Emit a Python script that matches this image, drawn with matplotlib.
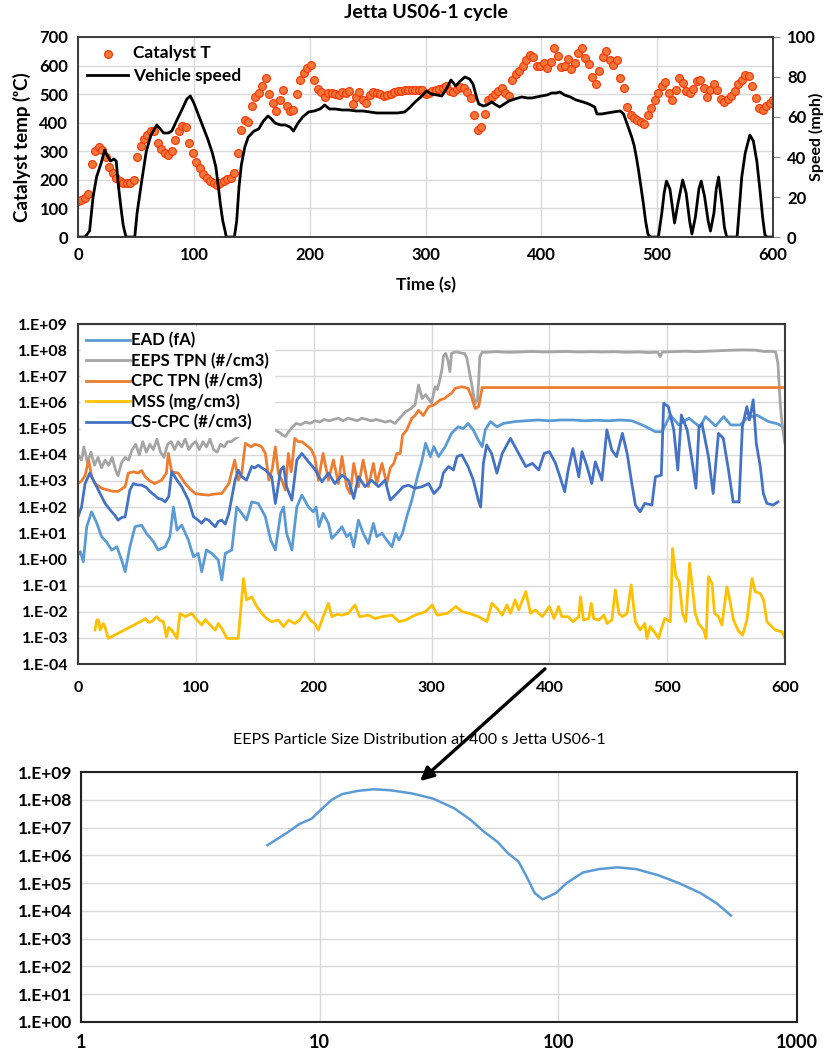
import numpy as np
import matplotlib
matplotlib.use("Agg")
import matplotlib.pyplot as plt
from matplotlib.patches import FancyArrowPatch
from matplotlib.ticker import FixedLocator, FuncFormatter, NullLocator

plt.rcParams['font.family'] = ['Lato', 'DejaVu Sans']

# ---------------- top panel: catalyst temperature and vehicle speed ----------------
cat_time = np.arange(0, 601, 3)
cat_temp = [
    127, 128, 135, 152, 255, 300, 315, 305, 280, 245, 225, 207, 195, 190, 188, 188, 200, 280, 318, 342,
    356, 370, 370, 330, 308, 294, 288, 300, 340, 372, 388, 385, 330, 295, 262, 240, 222, 205, 196, 190,
    181, 188, 195, 203, 208, 225, 295, 375, 408, 403, 460, 490, 505, 530, 555, 500, 468, 440, 480, 515,
    460, 440, 445, 500, 550, 575, 592, 602, 550, 518, 508, 490, 503, 505, 500, 497, 509, 505, 512, 465,
    490, 509, 479, 470, 497, 507, 505, 500, 492, 497, 502, 508, 510, 512, 513, 513, 514, 514, 514, 514,
    500, 505, 510, 514, 518, 522, 528, 510, 506, 517, 524, 520, 509, 485, 427, 375, 385, 432, 479, 490,
    500, 510, 520, 505, 495, 550, 570, 582, 598, 620, 636, 630, 600, 600, 608, 591, 614, 660, 632, 596,
    600, 622, 588, 608, 643, 660, 626, 605, 560, 535, 580, 630, 650, 620, 602, 620, 555, 521, 456, 427,
    415, 408, 402, 396, 428, 452, 478, 505, 528, 544, 505, 480, 514, 556, 540, 510, 503, 518, 545, 550,
    521, 491, 514, 535, 515, 482, 473, 484, 495, 512, 535, 549, 568, 562, 528, 485, 452, 445, 458, 470,
    480,
]

speed_time = [
    0, 6, 10, 13, 16, 20, 23, 26, 28, 31, 33, 35, 37, 39, 41, 42, 49, 51, 55, 59, 63, 66, 68, 71, 74, 78,
    81, 85, 90, 94, 97, 100, 104, 108, 112, 116, 119, 121, 123, 125, 127, 128, 135, 137, 139, 141, 144,
    147, 152, 156, 160, 164, 167, 170, 175, 179, 183, 186, 190, 194, 199, 204, 209, 213, 217, 222, 228,
    234, 240, 246, 252, 258, 264, 270, 276, 282, 286, 291, 296, 301, 305, 310, 314, 318, 322, 326, 330,
    334, 338, 341, 344, 346, 350, 353, 357, 361, 364, 368, 372, 377, 383, 388, 392, 396, 400, 405, 409,
    413, 416, 420, 425, 430, 436, 441, 446, 448, 452, 457, 462, 468, 471, 475, 478, 480, 482, 484, 486,
    488, 490, 492, 494, 501, 504, 506, 508, 511, 515, 518, 522, 525, 528, 530, 533, 536, 538, 541, 544,
    546, 549, 551, 553, 556, 558, 560, 569, 571, 573, 576, 580, 583, 586, 589, 591, 593, 595, 600,
]
speed_mph = [
    0, 0, 3, 20, 30, 37, 43.5, 40, 38, 39, 38, 25, 15, 6, 1, 0, 0, 12, 28, 43, 51, 54, 56, 54, 52, 52,
    53, 58, 64, 69, 70.5, 67, 61, 55, 49, 42, 35, 26, 16, 8, 3, 0, 0, 8, 25, 36, 45,
    50, 53, 54, 58, 60.5, 59, 57, 56, 56, 55, 53, 57, 60, 62.5, 63, 64, 66, 64, 64, 63.5,
    63.5, 63, 63, 62.5, 62, 62, 62, 62, 62.5, 64.5, 67.5, 70, 73, 71.5, 71, 70.5, 74, 78.5, 75.5, 78,
    80, 79, 76.5, 70, 66.5, 65.5, 66, 67.5, 66, 65, 66.5, 68, 69, 70, 69.5, 69.5, 70, 70.5, 71, 72,
    72, 72.5, 71, 70, 68.5, 67.5, 66.5, 65, 61.5, 61.5, 62, 62.5, 63, 61.5, 55, 50, 46, 40, 33, 25,
    17, 8, 1.5, 0, 0, 12, 22, 28, 24, 7, 17, 28.5, 22, 8, 1.5, 10, 24, 28, 20, 8,
    3, 12, 24, 30, 16, 5, 0, 0, 15, 30, 42, 51, 48, 38, 22, 10, 1, 0, 0,
]

# ---------------- middle panel: particle instruments (log10 of value) ----------------
ead_time = [
    0, 2, 4.5, 7.4, 11.6, 16, 20, 24, 28.6, 33, 37, 40, 44, 48.4, 54, 58, 64, 68, 74, 78, 81, 84, 88,
    93.7, 98, 102, 105, 109, 113.5, 119, 122, 125, 130.5, 134.7, 139, 143, 147.5, 153, 159, 163.5,
    167.5, 172, 174.5, 177, 181.5, 185.7, 190, 195.6, 199.6, 202, 204.5, 208, 212.5, 215.4, 219.6, 224,
    228, 231, 234, 238, 242, 246.4, 250.7, 253.5, 258, 262, 266.5, 269.5, 272.4, 275.4, 279, 283.3, 288,
    292, 295, 299, 302, 306, 311.6, 317, 322.6, 327, 331, 335.5, 339.7, 343, 345.6, 350, 355.5, 361,
    371, 380, 390, 400, 410, 420, 430, 440, 450, 460, 470, 478.8, 485, 490, 495.6, 502.7, 509.8, 514,
    518.5, 524, 528, 532.5, 541, 548, 554, 562, 567.6, 576, 586, 594, 598, 600,
]
ead_log = [
    0.17, 0.3, -0.09, 1.25, 1.82, 1.38, 0.87, 0.68, 0.36, 0.48, -0.02, -0.47, 0.48, 1.25, 1.31, 1.0, 0.68,
    0.36, 0.48, 0.87, 2.0, 1.12, 1.31, 0.74, 0.1, 0.23, -0.47, 0.36, 0.23, -0.02, -0.79, 0.23, 0.36, 2.0,
    1.76, 1.5, 2.2, 2.14, 1.63, 0.74, 0.36, 1.76, 2.0, 1.0, 0.36, 2.0, 2.46, 2.0, 1.82, 2.0, 1.25, 1.76,
    1.38, 0.8, 1.0, 1.25, 0.87, 1.0, 0.48, 1.5, 1.0, 0.61, 1.38, 0.87, 1.0, 0.74, 0.48, 1.0, 0.74, 1.0,
    1.63, 2.27, 3.16, 3.8, 4.44, 3.93, 4.31, 3.93, 4.31, 4.82, 5.07, 5.0, 5.2, 4.95, 4.56, 4.31, 4.95,
    5.27, 5.07, 5.2, 5.27, 5.3, 5.33, 5.3, 5.33, 5.33, 5.3, 5.32, 5.3, 5.33, 5.3, 5.14, 5.0, 4.88, 4.88,
    5.52, 5.14, 5.27, 5.4, 5.2, 5.07, 5.46, 5.1, 5.46, 5.14, 5.14, 5.4, 5.52, 5.27, 5.18, 5.07, 4.44,
]

eeps_time = [
    0, 3, 5, 8, 11, 14, 17, 20, 23, 26, 29, 32, 34, 37, 40, 43, 46, 49, 52, 55, 58, 61, 64, 67, 70, 73,
    76, 79, 82, 85, 88, 91, 94, 97, 100, 103, 106, 109, 112, 115, 118, 121, 124, 127, 130, 133, 136, 139,
    142, 146, 150, 155, 159, 163, 167, 171, 174, 176, 179, 182, 185, 189, 193, 197, 201, 205, 209, 213,
    217, 221, 225, 229, 233, 237, 241, 245, 249, 253, 257, 261, 265, 269, 272, 275, 278, 282, 286, 289,
    292, 295, 298, 300, 303, 305, 307, 309, 310, 312, 314, 315.6, 317, 320, 323, 326, 328, 330, 332, 334,
    336, 337, 339, 340, 341, 343, 345, 355, 365, 375, 385, 395, 405, 415, 425, 435, 445, 455, 465, 475,
    485, 492, 494, 496, 505, 515, 525, 535, 545, 555, 565, 575, 582, 590, 592, 594, 596, 597.5, 600,
]
eeps_log = [
    4.0, 3.8, 4.3, 3.7, 4.1, 3.6, 3.9, 3.5, 3.8, 3.6, 3.9, 3.4, 3.2, 3.7, 3.9, 3.8, 4.2, 4.4, 4.0, 4.5,
    4.1, 4.4, 4.2, 4.6, 4.1, 3.9, 4.4, 4.5, 4.2, 4.5, 4.3, 4.6, 4.2, 4.4, 4.5, 4.2, 4.5, 4.3, 4.6, 4.2,
    4.1, 4.4, 4.3, 4.5, 4.5, 4.6, 4.7, 4.75, 4.8, 4.85, 4.9, 4.9, 5.0, 4.9, 4.95, 4.85, 4.75, 4.7, 4.9,
    5.05, 5.2, 5.15, 5.25, 5.2, 5.3, 5.25, 5.35, 5.3, 5.35, 5.4, 5.3, 5.4, 5.35, 5.3, 5.4, 5.35, 5.3,
    5.35, 5.3, 5.25, 5.3, 5.2, 5.35, 5.5, 5.65, 5.75, 5.9, 6.67, 6.15, 6.3, 6.1, 5.97, 6.6, 6.5, 6.86,
    7.3, 7.75, 7.88, 7.6, 7.18, 7.88, 7.93, 7.92, 7.88, 7.88, 7.7, 7.2, 6.73, 6.2, 5.97, 6.1, 6.8, 7.75,
    7.92, 7.92, 7.94, 7.92, 7.93, 7.95, 7.93, 7.94, 7.95, 7.93, 7.94, 7.93, 7.94, 7.92, 7.93, 7.91, 7.92,
    7.75, 7.93, 7.94, 7.96, 7.94, 7.96, 7.98, 8.0, 8.01, 8.0, 7.95, 7.95, 7.93, 7.5, 5.9, 5.2, 4.5,
]

cpc_time = [
    0, 3, 6, 9, 11.6, 14.5, 20, 25.7, 30, 34, 40, 42.7, 47, 51, 54, 57, 61, 65, 71, 75, 76.7, 79.5, 85,
    91, 95, 99.5, 105, 111, 116, 122, 128, 133, 136, 139, 142, 147, 150, 153, 156, 159, 162, 165, 167.5,
    170, 173, 176, 178.5, 181, 184, 187, 190, 195.6, 198, 201, 204, 208, 212.5, 216.8, 221, 224, 228,
    231, 234, 238, 242, 246.4, 250.7, 253.5, 258, 262, 265, 268, 270.6, 273.5, 275.4, 279, 283.3, 286,
    289, 293, 297.6, 302, 307.4, 311, 314.4, 317, 320, 325.7, 331, 334, 337, 340, 343, 600,
]
cpc_log = [
    2.9, 3.0, 3.2, 3.8, 3.16, 2.9, 2.72, 2.65, 2.6, 2.6, 2.78, 3.3, 3.35, 3.3, 3.4, 3.16, 3.0, 2.9, 3.03,
    3.3, 4.05, 3.35, 3.3, 2.9, 2.7, 2.52, 2.48, 2.46, 2.5, 2.52, 2.9, 3.8, 3.03, 3.3, 4.44, 4.3, 4.4,
    4.37, 4.3, 4.05, 3.03, 3.5, 4.3, 3.3, 3.03, 2.65, 4.05, 3.35, 4.63, 4.5, 4.5, 4.3, 4.2, 3.9, 3.03,
    4.05, 3.03, 3.8, 2.9, 3.93, 2.78, 2.52, 3.67, 2.78, 3.8, 2.78, 3.67, 2.9, 3.67, 2.9, 3.5, 3.67,
    4.05, 4.05, 4.75, 4.95, 5.4, 5.5, 5.7, 5.5, 5.84, 5.9, 6.1, 6.15, 6.28, 6.35, 6.54, 6.6, 6.54, 6.22,
    5.77, 5.84, 6.57, 6.57,
]

mss_time = [
    14.4, 16, 17.5, 18.7, 21.5, 23, 25.7, 55.5, 57, 60, 62.5, 66.8, 70, 72.5, 75, 77, 79.5, 84, 86.6, 91,
    96.5, 101, 105, 108, 111, 114, 116.5, 119, 122, 126.5, 136, 140.4, 143, 147.5, 151.7, 156, 160,
    164.4, 170, 174.5, 178.6, 184, 188, 192.7, 197, 201, 204, 208, 212.5, 215.4, 220, 224, 229.5, 235,
    239, 246.4, 252, 258, 266.5, 272.4, 278, 286, 295, 300.5, 305, 313.6, 320.7, 326, 331.8, 340, 347,
    351.3, 355.5, 360, 364, 367, 371, 374, 380, 384, 388, 394, 400, 404, 407.8, 410.6, 416, 420, 425,
    426.4, 429, 433.4, 435.6, 437.6, 442, 446.4, 449, 453, 456, 459, 462, 466, 469.4, 473, 477, 481,
    482.8, 485.6, 490, 492.6, 495.6, 498, 502.7, 504.5, 507.4, 510.2, 513, 515.8, 519, 521, 523.8,
    526.6, 531, 533, 535, 538, 540.2, 543.6, 546.4, 550.7, 552.6, 556.3, 560, 564, 567.6, 572, 574.7,
    579, 581.8, 584.6, 587.5, 591.7, 597.4, 600,
]
mss_log = [
    -2.7, -2.32, -2.32, -2.7, -2.45, -2.6, -3.02, -2.32, -2.26, -2.4, -2.38, -2.19, -2.35, -2.38, -2.96,
    -2.6, -2.7, -3.02, -2.06, -2.19, -2.06, -2.32, -2.51, -2.3, -2.45, -2.6, -2.7, -2.45, -2.64, -3.02,
    -3.02, -0.73, -1.55, -1.43, -1.8, -2.06, -2.26, -2.38, -2.32, -2.57, -2.32, -2.45, -2.32, -2.0,
    -2.32, -2.45, -2.7, -2.19, -1.68, -2.19, -2.1, -2.13, -2.06, -1.74, -2.19, -2.13, -2.26, -2.19,
    -2.13, -2.38, -2.32, -2.13, -2.0, -1.74, -2.13, -2.06, -1.8, -2.0, -2.06, -2.19, -2.38, -1.68,
    -1.87, -2.13, -1.74, -2.06, -1.55, -1.93, -1.23, -2.06, -1.93, -2.19, -1.8, -2.26, -1.8, -2.19,
    -2.19, -2.38, -2.19, -1.43, -2.32, -2.26, -1.68, -2.26, -2.32, -2.13, -2.45, -2.32, -1.17, -2.06,
    -2.19, -2.06, -0.98, -2.38, -2.7, -2.45, -3.02, -2.57, -2.83, -3.02, -2.57, -2.26, -2.38, 0.42,
    -0.66, -0.85, -2.06, -2.38, -0.15, -0.92, -2.06, -2.45, -2.7, -3.02, -0.66, -0.92, -2.06, -2.19,
    -2.51, -1.05, -1.43, -2.32, -2.7, -2.9, -2.32, -0.73, -1.24, -1.3, -1.55, -2.38, -2.51, -2.7, -2.77,
    -3.02,
]

cscpc_time = [
    0, 3, 6, 10, 14.5, 18.7, 23, 28.6, 31, 34, 37, 40, 44, 47, 50, 54, 58, 61, 65, 68, 71, 74, 77, 79.5,
    84, 88, 93.7, 98, 102, 105, 108, 111, 114, 116.5, 119, 122, 125, 128, 133.3, 136, 139, 143, 147.4,
    150, 153, 156, 159, 164.4, 167.5, 172, 174.5, 177, 181.5, 185.7, 190, 195.6, 201, 204, 207, 212.5,
    218, 224, 229.5, 234, 238, 243.6, 249, 255, 260.6, 265, 270.6, 276, 280.4, 286, 292, 297.6, 302,
    307.4, 310, 314.4, 318.6, 321.6, 325.7, 331, 335.5, 339.7, 341.7, 344, 346.8, 351, 355.5, 360, 367,
    371, 375.5, 380, 385.6, 391, 395.6, 400, 405, 409, 413, 416, 420, 425, 427.7, 432, 436, 439, 444.6,
    448.8, 453, 457, 462, 466, 470, 473, 477, 481, 487, 490, 495, 497, 501, 505.6, 509, 512, 517, 521,
    524.4, 527, 529.5, 535, 539, 543.5, 547.6, 552, 556, 561, 563.8, 567.6, 569.8, 573, 575.6, 579,
    581.6, 584.6, 590, 594,
]
cscpc_log = [
    1.63, 2.0, 2.9, 3.3, 2.9, 2.52, 2.14, 1.82, 1.7, 1.5, 1.6, 1.63, 2.65, 2.9, 2.85, 2.84, 2.75, 2.6,
    2.45, 2.33, 2.3, 2.2, 2.4, 3.35, 3.03, 2.78, 2.27, 1.63, 1.5, 1.38, 1.55, 1.5, 1.35, 1.25, 1.45, 1.5,
    1.35, 1.76, 3.03, 3.42, 3.16, 3.03, 3.55, 3.5, 3.6, 3.5, 3.42, 3.16, 2.14, 3.42, 3.55, 2.78, 2.27,
    3.8, 4.05, 3.73, 3.45, 3.2, 2.97, 3.3, 2.9, 3.22, 3.03, 2.33, 3.16, 2.78, 3.03, 2.78, 3.03, 2.27,
    2.52, 2.78, 2.84, 2.72, 2.78, 2.9, 2.52, 2.78, 3.3, 3.55, 3.42, 3.93, 4.0, 3.55, 3.03, 2.27, 2.0,
    3.67, 4.37, 4.05, 3.3, 4.05, 4.63, 4.3, 3.93, 3.55, 3.67, 3.42, 4.05, 4.12, 3.7, 3.16, 2.59, 3.42,
    4.24, 3.16, 4.12, 3.55, 2.9, 3.73, 3.03, 4.95, 4.18, 3.93, 4.82, 4.05, 2.9, 2.08, 1.82, 2.14, 2.08,
    3.16, 3.22, 5.97, 5.84, 4.95, 3.42, 5.52, 4.95, 3.8, 2.72, 5.07, 5.2, 3.93, 2.52, 4.82, 4.63, 3.42,
    2.2, 2.2, 5.07, 5.84, 5.33, 6.1, 4.44, 3.55, 2.52, 2.14, 2.08, 2.2,
]

# ---------------- bottom panel: EEPS size distribution at 400 s ----------------
psd_diam = [6.04, 7.42, 8.23, 9.27, 10.1, 11.2, 12.4, 14.5, 16.9, 19.8, 24.3, 29.9, 36.7, 42.9, 48.8,
            55.5, 61.5, 68.2, 73.7, 79.6, 86.0, 97.8, 108.4, 126.7, 148, 177, 212, 261, 320, 394, 460, 529]
psd_conc = [2.3e6, 7.1e6, 1.35e7, 2.1e7, 4.3e7, 9.8e7, 1.6e8, 2.1e8, 2.4e8, 2.2e8, 1.7e8, 1.1e8, 4.9e7,
            1.9e7, 7.1e6, 3.1e6, 1.2e6, 5.9e5, 1.7e5, 4.4e4, 2.6e4, 4.4e4, 1.0e5, 2.4e5, 3.2e5, 3.7e5,
            3.2e5, 1.95e5, 1.0e5, 4.4e4, 1.9e4, 6.8e3]

GRID = '#d9d9d9'
FRAME = '#3a3a3a'
BOLD = dict(fontweight='bold')

fig = plt.figure(figsize=(8.28, 10.53), dpi=100)

# ---- top panel ----
ax1 = fig.add_axes([0.0942, 0.7749, 0.8394, 0.1900])
ax1b = ax1.twinx()
ax1.set_xlim(0, 600)
ax1.set_ylim(0, 700)
ax1b.set_ylim(0, 100)
ax1.set_xticks(range(0, 601, 100))
ax1.set_yticks(range(0, 701, 100))
ax1b.set_yticks(range(0, 101, 20))
ax1.grid(True, color=GRID, lw=1)
ax1.set_axisbelow(True)
sc = ax1.scatter(cat_time, cat_temp, s=32, facecolor='#F0773A', edgecolor='#FF3300', lw=0.8,
                 zorder=3, label='Catalyst T')
ln, = ax1b.plot(speed_time, speed_mph, color='black', lw=2.0, label='Vehicle speed')
for a in (ax1, ax1b):
    for s in a.spines.values():
        s.set_color(FRAME)
        s.set_linewidth(1.2)
ax1.tick_params(axis='both', length=0, labelsize=12, pad=7)
ax1b.tick_params(axis='y', length=5, color='#888888', labelsize=12, pad=5)
for lab in ax1.get_xticklabels() + ax1.get_yticklabels() + ax1b.get_yticklabels():
    lab.set_fontweight('bold')
ax1.set_xlabel('Time (s)', fontsize=12.5, **BOLD)
ax1.xaxis.set_label_coords(0.5, -0.20)
ax1.set_ylabel('Catalyst temp (ᵒC)', fontsize=13.5, **BOLD)
ax1.yaxis.set_label_coords(-0.068, 0.45)
ax1b.set_ylabel('Speed (mph)', fontsize=11.5, **BOLD)
ax1b.yaxis.set_label_coords(1.052, 0.5)
ax1.set_title('Jetta US06-1 cycle', fontsize=14, pad=14, **BOLD)
ax1b.legend(handles=[sc, ln], loc='upper left', bbox_to_anchor=(-0.005, 1.02), frameon=False,
            prop=dict(weight='bold', size=12.5), handlelength=2.4, handletextpad=0.25,
            labelspacing=0.4, borderaxespad=0.3)

# ---- middle panel ----
ax2 = fig.add_axes([0.0942, 0.3694, 0.8539, 0.3229])
ax2.set_yscale('log')
ax2.set_xlim(0, 600)
ax2.set_ylim(1e-4, 1e9)
ax2.set_xticks(range(0, 601, 100))
ax2.yaxis.set_major_locator(FixedLocator([10.0 ** e for e in range(-4, 10)]))
ax2.yaxis.set_minor_locator(NullLocator())
ax2.yaxis.set_major_formatter(FuncFormatter(lambda v, p: '1.E%+03d' % round(np.log10(v))))
ax2.grid(True, color=GRID, lw=1)
ax2.set_axisbelow(True)
series = [
    (ead_time, ead_log, '#5B9BD5', 'EAD (fA)'),
    (eeps_time, eeps_log, '#A5A5A5', 'EEPS TPN (#/cm3)'),
    (cpc_time, cpc_log, '#ED7D31', 'CPC TPN (#/cm3)'),
    (mss_time, mss_log, '#FFC000', 'MSS (mg/cm3)'),
    (cscpc_time, cscpc_log, '#4472C4', 'CS-CPC (#/cm3)'),
]
for t, lg, col, name in series:
    ax2.plot(t, 10.0 ** np.array(lg), color=col, lw=2.0, label=name)
for s in ax2.spines.values():
    s.set_color(FRAME)
    s.set_linewidth(1.5)
ax2.tick_params(axis='y', length=0, labelsize=11.5, pad=7)
ax2.tick_params(axis='x', length=0, labelsize=11.5, pad=12)
for lab in ax2.get_xticklabels() + ax2.get_yticklabels():
    lab.set_fontweight('bold')
ax2.legend(loc='upper left', bbox_to_anchor=(0.0, 1.0), frameon=True, fancybox=False,
           framealpha=1, edgecolor='white', prop=dict(weight='bold', size=12),
           handlelength=2.6, handletextpad=0.1, labelspacing=0.25, borderaxespad=0.2,
           borderpad=0.3)

# ---- bottom panel ----
ax3 = fig.add_axes([0.0978, 0.02944, 0.8647, 0.2374])
ax3.set_xscale('log')
ax3.set_yscale('log')
ax3.set_xlim(1, 1000)
ax3.set_ylim(1, 1e9)
ax3.xaxis.set_major_locator(FixedLocator([1, 10, 100, 1000]))
ax3.xaxis.set_minor_locator(NullLocator())
ax3.xaxis.set_major_formatter(FuncFormatter(lambda v, p: '%d' % round(v)))
ax3.yaxis.set_major_locator(FixedLocator([10.0 ** e for e in range(0, 10)]))
ax3.yaxis.set_minor_locator(NullLocator())
ax3.yaxis.set_major_formatter(FuncFormatter(lambda v, p: '1.E%+03d' % round(np.log10(v))))
ax3.grid(True, color=GRID, lw=1)
ax3.set_axisbelow(True)
ax3.plot(psd_diam, psd_conc, color='#5B9BD5', lw=1.8)
for s in ax3.spines.values():
    s.set_color('#222222')
    s.set_linewidth(1.5)
ax3.tick_params(axis='y', length=0, labelsize=12.5, pad=6)
ax3.tick_params(axis='x', length=0, labelsize=13, pad=9)
for lab in ax3.get_xticklabels() + ax3.get_yticklabels():
    lab.set_fontweight('bold')
fig.text(419 / 828, 1 - 740 / 1053, 'EEPS Particle Size Distribution at 400 s Jetta US06-1',
         ha='center', va='center', fontsize=11.5)

# arrow from the 400 s point down to the size distribution
fig.add_artist(FancyArrowPatch((547 / 828, 1 - 667 / 1053), (418 / 828, 1 - 783 / 1053),
                               transform=fig.transFigure, arrowstyle='-|>', mutation_scale=20,
                               lw=2.4, color='black', zorder=10))

fig.savefig('out.png', dpi=100)
